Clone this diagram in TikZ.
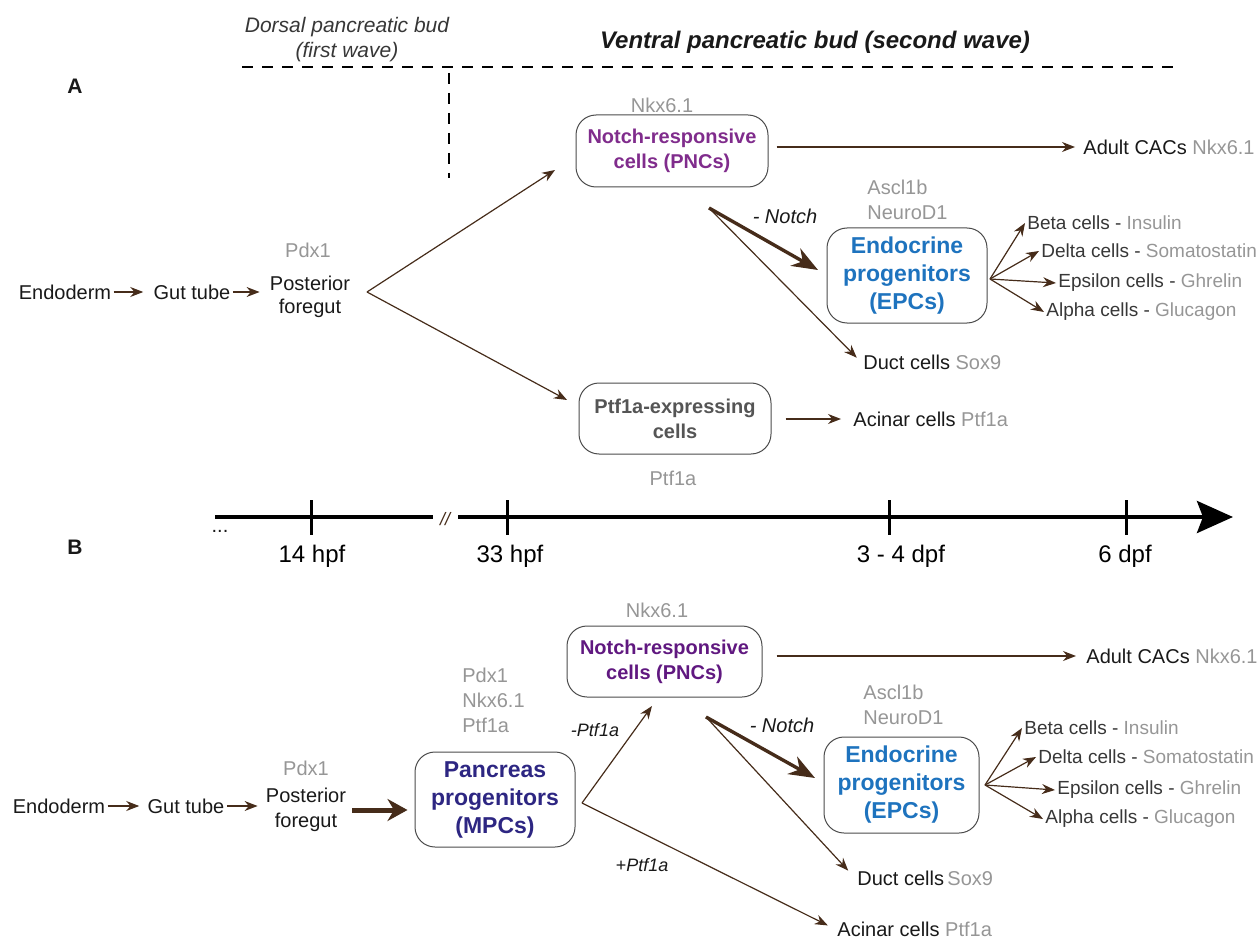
\documentclass[tikz,border=0pt]{standalone}
\usepackage{fontspec}
\setmainfont{Liberation Sans}
\usepackage{tikz}
\usetikzlibrary{positioning,calc,arrows.meta}
\usepackage{xcolor}

\definecolor{arrowbrown}{RGB}{70,44,26}
\definecolor{genegray}{RGB}{150,150,150}
\definecolor{inkblack}{RGB}{25,25,25}
\definecolor{fateblack}{RGB}{55,55,55}
\definecolor{boxgray}{RGB}{75,75,75}
\definecolor{pncpurple}{RGB}{128,44,140}
\definecolor{pncpurpledark}{RGB}{96,24,128}
\definecolor{epcblue}{RGB}{30,115,190}
\definecolor{mpcblue}{RGB}{45,38,130}
\definecolor{ptfgray}{RGB}{85,85,85}

\begin{document}
\begin{tikzpicture}[x=0.5pt,y=-0.5pt,
  txt/.style={inner sep=1pt,text=inkblack,font=\fontsize{10}{12.5}\selectfont},
  gene/.style={txt,text=genegray},
  fate/.style={inner sep=1pt,anchor=west,text=fateblack,font=\fontsize{9.5}{11}\selectfont},
  cue/.style={txt,font=\itshape\fontsize{9.5}{11}\selectfont},
  cellbox/.style={draw=boxgray,line width=0.5pt,rounded corners=10pt,align=center,inner sep=0pt,
    font=\bfseries\fontsize{10}{12.5}\selectfont},
  bigbox/.style={cellbox,font=\bfseries\fontsize{11.5}{14}\selectfont},
  link/.style={draw=arrowbrown,line width=0.6pt,-{Stealth[length=6.5pt,width=5pt]}},
  boldlink/.style={draw=arrowbrown,line width=1.7pt,-{Stealth[length=13pt,width=10pt]}},
  fatlink/.style={draw=arrowbrown,line width=2.5pt,-{Stealth[length=10pt,width=11pt]}},
  budline/.style={line width=1pt,dash pattern=on 5.5pt off 4.5pt},
  axis/.style={line width=2pt},
  tick/.style={line width=1.5pt},
  timelab/.style={inner sep=1pt,font=\fontsize{12}{14}\selectfont}
]
\useasboundingbox (0,0) rectangle (1258,941);

% Bud headers and dashed split.
\node[txt,align=center,text=fateblack,font=\itshape\fontsize{10.5}{12.5}\selectfont]
  (dorsalLbl) at (347,40) {Dorsal pancreatic bud\\(first wave)};
\node[txt,font=\bfseries\itshape\fontsize{12}{14}\selectfont]
  (ventralLbl) at (815,42) {Ventral pancreatic bud (second wave)};
\draw[budline] (242,67) -- (1175,67);
\draw[budline] (449,73) -- (449,178);

\node[txt,font=\bfseries\fontsize{10.5}{12}\selectfont] (panelA) at (75,86) {A};
\node[txt,font=\bfseries\fontsize{10.5}{12}\selectfont] (panelB) at (75,547) {B};

% Panel A: early lineage.
\node[txt] (endoA) at (65,292) {Endoderm};
\node[txt] (gutA) at (192,292) {Gut tube};
\node[txt,align=center,font=\fontsize{10}{11.5}\selectfont] (postA) at (310,297) {Posterior\\foregut};
\node[gene] (pdxA) at (308,250) {Pdx1};
\coordinate (brA) at (367,292);

\draw[link,shorten >=4pt] (endoA.east) -- (gutA.west);
\draw[link,shorten >=4pt] (gutA.east) -- (gutA.east -| postA.west);

% Panel A: the three cell pools.
\node[cellbox,text=pncpurple,minimum width=96pt,minimum height=36pt]
  (pncA) at (672,151) {Notch-responsive\\cells (PNCs)};
\node[gene] (nkxA) at (662,105) {Nkx6.1};
\node[cellbox,text=ptfgray,minimum width=96pt,minimum height=35.5pt]
  (ptfA) at (675,418.5) {Ptf1a-expressing\\cells};
\node[gene] (ptfGeneA) at (673,478) {Ptf1a};
\node[bigbox,text=epcblue,minimum width=80pt,minimum height=47.5pt]
  (epcA) at (907,275.5) {Endocrine\\progenitors\\(EPCs)};
\node[gene,align=left,anchor=west] (epcGeneA) at (865,200) {Ascl1b\\NeuroD1};

\coordinate (tipPncA) at (555,170);
\coordinate (tipPtfA) at (567,400);
\draw[link] (brA) -- (tipPncA);
\draw[link] (brA) -- (tipPtfA);

% Panel A: fates.
\node[txt,anchor=west] (adultA) at (1081,147) {Adult CACs \textcolor{genegray}{Nkx6.1}};
\node[txt,anchor=west] (ductA) at (861,362) {Duct cells \textcolor{genegray}{Sox9}};
\node[txt,anchor=west] (acinarA) at (851,419) {Acinar cells \textcolor{genegray}{Ptf1a}};

\draw[link,shorten <=4pt,shorten >=3pt] (pncA.east |- adultA) -- (adultA);
\draw[link,shorten <=7pt,shorten >=5pt] (ptfA.east |- acinarA) -- (acinarA);

\coordinate (oNotchA) at (709,208);
\coordinate (tipEpcA) at (818,270);
\node[cue,font=\itshape\fontsize{10}{12}\selectfont] (notchA) at (785,216) {- Notch};
\draw[boldlink] (oNotchA) -- (tipEpcA);
\draw[link,shorten >=3pt] (oNotchA) -- (ductA.west);

\coordinate (fanA) at (990,279);
\node[fate] (betaA) at (1025,223) {Beta cells - \textcolor{genegray}{Insulin}};
\node[fate] (deltaA) at (1039,251) {Delta cells - \textcolor{genegray}{Somatostatin}};
\node[fate] (epsA) at (1056,283) {Epsilon cells - \textcolor{genegray}{Ghrelin}};
\node[fate] (alphaA) at (1044,312) {Alpha cells - \textcolor{genegray}{Glucagon}};
\foreach \f in {betaA,deltaA,epsA,alphaA}
  \draw[link] (fanA) -- (\f.west);

% Time axis.
\draw[axis] (215,517) -- (433,517);
\node[txt,text=arrowbrown,font=\itshape\fontsize{9}{10}\selectfont] (brk) at (445,519) {//};
\draw[axis,-{Stealth[length=18pt,width=16pt,inset=3pt]}] (458,517) -- (1233,517);
\node[txt] (dots) at (220,531) {...};
\foreach \t/\lx/\lab in {311/312/14 hpf,507/510/33 hpf,889/901/3 - 4 dpf,1126/1125/6 dpf}{
  \draw[tick] (\t,500) -- (\t,535);
  \node[timelab] at (\lx,556) {\lab};
}

% Panel B: early lineage.
\node[txt] (endoB) at (59,806) {Endoderm};
\node[txt] (gutB) at (186,806) {Gut tube};
\node[txt,align=center,font=\fontsize{10}{12.5}\selectfont] (postB) at (306,810) {Posterior\\foregut};
\node[gene] (pdxB) at (306,768) {Pdx1};

\draw[link,shorten >=3pt] (endoB.east) -- (gutB.west);
\draw[link,shorten >=3pt] (gutB.east) -- (gutB.east -| postB.west);

\node[bigbox,text=mpcblue,minimum width=80pt,minimum height=47.5pt]
  (mpcB) at (495,799.5) {Pancreas\\progenitors\\(MPCs)};
\node[gene,align=left,anchor=west] (mpcGeneB) at (460,700) {Pdx1\\Nkx6.1\\Ptf1a};
\draw[fatlink,shorten <=2pt,shorten >=3.5pt] (postB.east) -- (postB.east -| mpcB.west);

% Panel B: cell pools.
\node[cellbox,text=pncpurpledark,minimum width=97.5pt,minimum height=35.5pt]
  (pncB) at (664.5,661.5) {Notch-responsive\\cells (PNCs)};
\node[gene] (nkxB) at (657,610) {Nkx6.1};
\node[bigbox,text=epcblue,minimum width=77.5pt,minimum height=48pt]
  (epcB) at (901.5,785) {Endocrine\\progenitors\\(EPCs)};
\node[gene,align=left,anchor=west] (epcGeneB) at (861,705) {Ascl1b\\NeuroD1};

% Panel B: fates.
\node[txt,anchor=west] (adultB) at (1084,656) {Adult CACs \textcolor{genegray}{Nkx6.1}};
\node[txt,anchor=west] (ductB) at (855,878) {Duct cells\,\textcolor{genegray}{Sox9}};
\node[txt,anchor=west] (acinarB) at (835,929) {Acinar cells \textcolor{genegray}{Ptf1a}};

\coordinate (brB) at (582,803);
\coordinate (tipPncB) at (652,706);
\draw[link] (brB) -- (tipPncB);
\draw[link,shorten >=4pt] (brB) -- (acinarB.west);
\node[cue,font=\itshape\fontsize{9}{11}\selectfont] (minusPtf) at (595,730) {-Ptf1a};
\node[cue,font=\itshape\fontsize{9}{11}\selectfont] (plusPtf) at (642,865) {+Ptf1a};

\draw[link,shorten <=7pt,shorten >=4pt] (pncB.east |- adultB) -- (adultB);

\coordinate (oNotchB) at (706,717);
\coordinate (tipEpcB) at (815,778);
\node[cue,font=\itshape\fontsize{10}{12}\selectfont] (notchB) at (782,725) {- Notch};
\draw[boldlink] (oNotchB) -- (tipEpcB);
\draw[link,shorten >=5pt] (oNotchB) -- (ductB.west);

\coordinate (fanB) at (985,785);
\node[fate] (betaB) at (1022,728) {Beta cells - \textcolor{genegray}{Insulin}};
\node[fate] (deltaB) at (1036,757) {Delta cells - \textcolor{genegray}{Somatostatin}};
\node[fate] (epsB) at (1055,790) {Epsilon cells - \textcolor{genegray}{Ghrelin}};
\node[fate] (alphaB) at (1043,819) {Alpha cells - \textcolor{genegray}{Glucagon}};
\foreach \f in {betaB,deltaB,epsB,alphaB}
  \draw[link] (fanB) -- (\f.west);

\end{tikzpicture}
\end{document}
